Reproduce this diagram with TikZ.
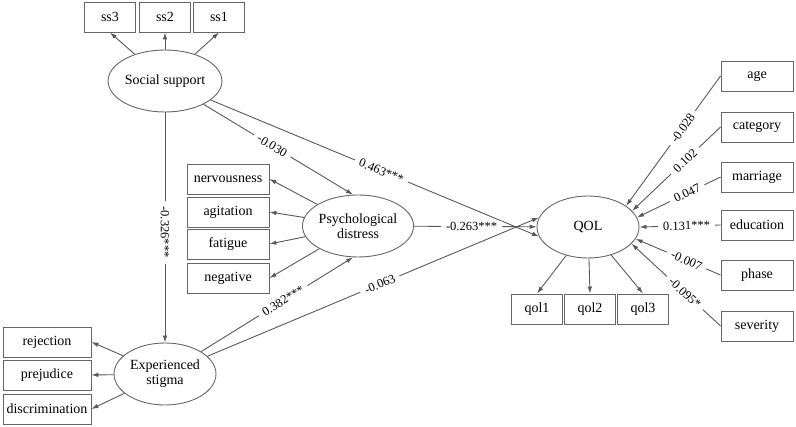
\documentclass[tikz,border=0pt]{standalone}
\usepackage{fontspec}
\setmainfont{Liberation Serif}
\usetikzlibrary{shapes.geometric,arrows.meta}

\begin{document}
\begin{tikzpicture}[x=1pt, y=-1pt, font=\fontsize{14}{15}\selectfont,
  latent/.style={ellipse, draw=black!60, line width=0.9pt, minimum width=102pt, minimum height=62pt, inner sep=0pt, align=center},
  obs/.style={rectangle, draw=black!60, line width=0.9pt, minimum height=30pt, inner sep=0pt},
  arr/.style={draw=black!65, line width=0.9pt, -{Latex[length=7pt,width=4.5pt]}},
  coef/.style={sloped, fill=white, inner xsep=5pt, inner ysep=1pt, font=\fontsize{12.5}{14}\selectfont}]
\useasboundingbox (0,0) rectangle (796,427);

% latent variables
\node[latent] (ss)  at (165,81)  {Social support};
\node[latent] (pd)  at (358,226) {Psychological\\distress};
\node[latent] (es)  at (165,374) {Experienced\\stigma};
\node[latent] (qol) at (588,227) {QOL};

% indicators
\node[obs, minimum width=51pt] (ss3) at (110,17) {ss3};
\node[obs, minimum width=51pt] (ss2) at (165,17) {ss2};
\node[obs, minimum width=51pt] (ss1) at (219,17) {ss1};

\node[obs, minimum width=82pt] (nerv) at (228,179) {nervousness};
\node[obs, minimum width=82pt] (agit) at (228,212) {agitation};
\node[obs, minimum width=82pt] (fati) at (228,244) {fatigue};
\node[obs, minimum width=82pt] (nega) at (228,278) {negative};

\node[obs, minimum width=88pt] (reje) at (47,342) {rejection};
\node[obs, minimum width=88pt] (prej) at (47,375) {prejudice};
\node[obs, minimum width=88pt] (disc) at (47,409) {discrimination};

\node[obs, minimum width=51pt] (qol1) at (537,309) {qol1};
\node[obs, minimum width=51pt] (qol2) at (590,309) {qol2};
\node[obs, minimum width=51pt] (qol3) at (643,309) {qol3};

% covariates
\node[obs, minimum width=72pt] (age)  at (757,76)  {age};
\node[obs, minimum width=72pt] (cate) at (757,127) {category};
\node[obs, minimum width=72pt] (marr) at (757,177) {marriage};
\node[obs, minimum width=72pt] (educ) at (757,225) {education};
\node[obs, minimum width=72pt] (phas) at (757,275) {phase};
\node[obs, minimum width=72pt] (seve) at (757,326) {severity};

% measurement paths
\draw[arr] (ss) -- (ss3.south);
\draw[arr] (ss) -- (ss2.south);
\draw[arr] (ss) -- (ss1.south);
\draw[arr] (pd) -- (nerv.east);
\draw[arr] (pd) -- (agit.east);
\draw[arr] (pd) -- (fati.east);
\draw[arr] (pd) -- (nega.east);
\draw[arr] (es) -- (reje.east);
\draw[arr] (es) -- (prej.east);
\draw[arr] (es) -- (disc.east);
\draw[arr] (qol) -- (qol1.north);
\draw[arr] (qol) -- (qol2.north);
\draw[arr] (qol) -- (qol3.north);

% structural paths
\draw[arr] (ss) -- node[coef, pos=0.46] {-0.030} (pd.99);
\draw[arr] (ss) -- node[coef, pos=0.52] {0.463***} (qol.191);
\draw[arr] (ss) -- node[fill=white, inner xsep=6pt, inner ysep=1pt, rotate=-90, font=\fontsize{12.5}{14}\selectfont, pos=0.52] {-0.326***} (es);
\draw[arr] (pd) -- node[coef, pos=0.47] {-0.263***} (qol);
\draw[arr] (es) -- node[coef, pos=0.54] {0.382***} (pd.-99);
\draw[arr] (es) -- node[coef, pos=0.52] {-0.063} (qol.169);

% covariate paths
\draw[arr] (age.west)  -- node[coef, pos=0.40] {-0.028} (qol.29);
\draw[arr] (cate.west) -- node[coef, pos=0.40] {0.102} (qol.20);
\draw[arr] (marr.west) -- node[coef, pos=0.40] {0.047} (qol.11);
\draw[arr] (educ.west) -- node[coef, pos=0.42] {0.131***} (qol.0);
\draw[arr] (phas.west) -- node[coef, pos=0.40] {-0.007} (qol.-14);
\draw[arr] (seve.west) -- node[coef, pos=0.40] {-0.095*} (qol.-21);
\end{tikzpicture}
\end{document}
